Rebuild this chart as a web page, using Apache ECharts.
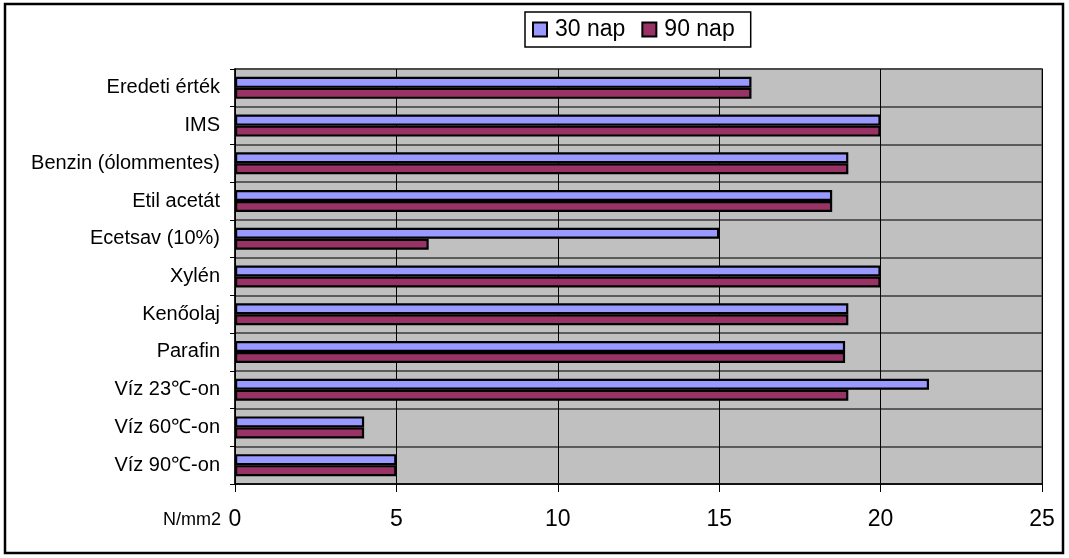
<!DOCTYPE html>
<html>
<head>
<meta charset="utf-8">
<script src="https://cdn.jsdelivr.net/npm/echarts@6/dist/echarts.min.js"></script>
<style>
  html, body { margin: 0; padding: 0; background: #ffffff; }
  #chart { width: 1069px; height: 558px; }
</style>
</head>
<body>
<div id="chart"></div>
<script>
// Szakítószilárdság a közegben tárolás után (N/mm2)
const categories = [
  'Eredeti érték', 'IMS', 'Benzin (ólommentes)', 'Etil acetát', 'Ecetsav (10%)',
  'Xylén', 'Kenőolaj', 'Parafin', 'Víz 23℃-on', 'Víz 60℃-on', 'Víz 90℃-on'
];
const seriesNames = ['30 nap', '90 nap'];
const values30 = [16, 20, 19, 18.5, 15, 20, 19, 18.9, 21.5, 4, 5];
const values90 = [16, 20, 19, 18.5, 6, 20, 19, 18.9, 19, 4, 5];
const xTicks = { min: 0, max: 25, interval: 5 };
const unitLabel = 'N/mm2';

const FONT = "'Liberation Sans', Arial, sans-serif";
const colors = ['#9999FF', '#993366'];

const chart = echarts.init(document.getElementById('chart'), null, { renderer: 'canvas' });

const barSeries = [values30, values90].map((vals, i) => ({
  name: seriesNames[i],
  type: 'bar',
  data: vals,
  barWidth: 11,
  barGap: '0%',
  itemStyle: { color: colors[i], borderColor: '#000', borderWidth: 2.2 },
  emphasis: { disabled: true }
}));

chart.setOption({
  animation: false,
  backgroundColor: '#ffffff',
  textStyle: { fontFamily: FONT, color: '#000' },
  graphic: [
    {
      type: 'rect',
      shape: { x: 5, y: 4, width: 1058, height: 549 },
      style: { fill: 'none', stroke: '#000', lineWidth: 2.5 },
      silent: true
    },
    {
      type: 'text',
      x: 221, y: 520,
      style: {
        text: unitLabel, fontFamily: FONT, fontSize: 18, fill: '#000',
        align: 'right', verticalAlign: 'middle'
      }
    }
  ],
  legend: {
    data: seriesNames,
    left: 525,
    top: 12,
    padding: [6, 16, 6, 7],
    itemWidth: 14,
    itemHeight: 14,
    itemGap: 16,
    icon: 'rect',
    borderColor: '#000',
    borderWidth: 1.5,
    textStyle: { fontFamily: FONT, fontSize: 23, color: '#000', padding: [0, 0, 0, 3] }
  },
  grid: {
    left: 235, right: 27, top: 69, bottom: 74,
    show: true,
    backgroundColor: '#C0C0C0',
    borderColor: '#808080',
    borderWidth: 2
  },
  xAxis: {
    type: 'value',
    min: xTicks.min, max: xTicks.max, interval: xTicks.interval,
    axisLine: { show: true, lineStyle: { color: '#000', width: 1.5 } },
    axisTick: { show: true, length: 8, lineStyle: { color: '#000', width: 1 } },
    axisLabel: { fontFamily: FONT, fontSize: 23, color: '#000', margin: 24 },
    splitLine: { show: true, lineStyle: { color: '#000', width: 1 } }
  },
  yAxis: {
    type: 'category',
    data: categories,
    inverse: true,
    axisLine: { show: true, lineStyle: { color: '#000', width: 1.5 } },
    axisTick: { show: true, length: 5, interval: 0, lineStyle: { color: '#000', width: 1 } },
    axisLabel: { fontFamily: FONT, fontSize: 20, color: '#000', margin: 15, interval: 0 },
    splitLine: { show: true, interval: 0, lineStyle: { color: '#3a3a3a', width: 1.5 } }
  },
  series: barSeries
});
</script>
</body>
</html>
